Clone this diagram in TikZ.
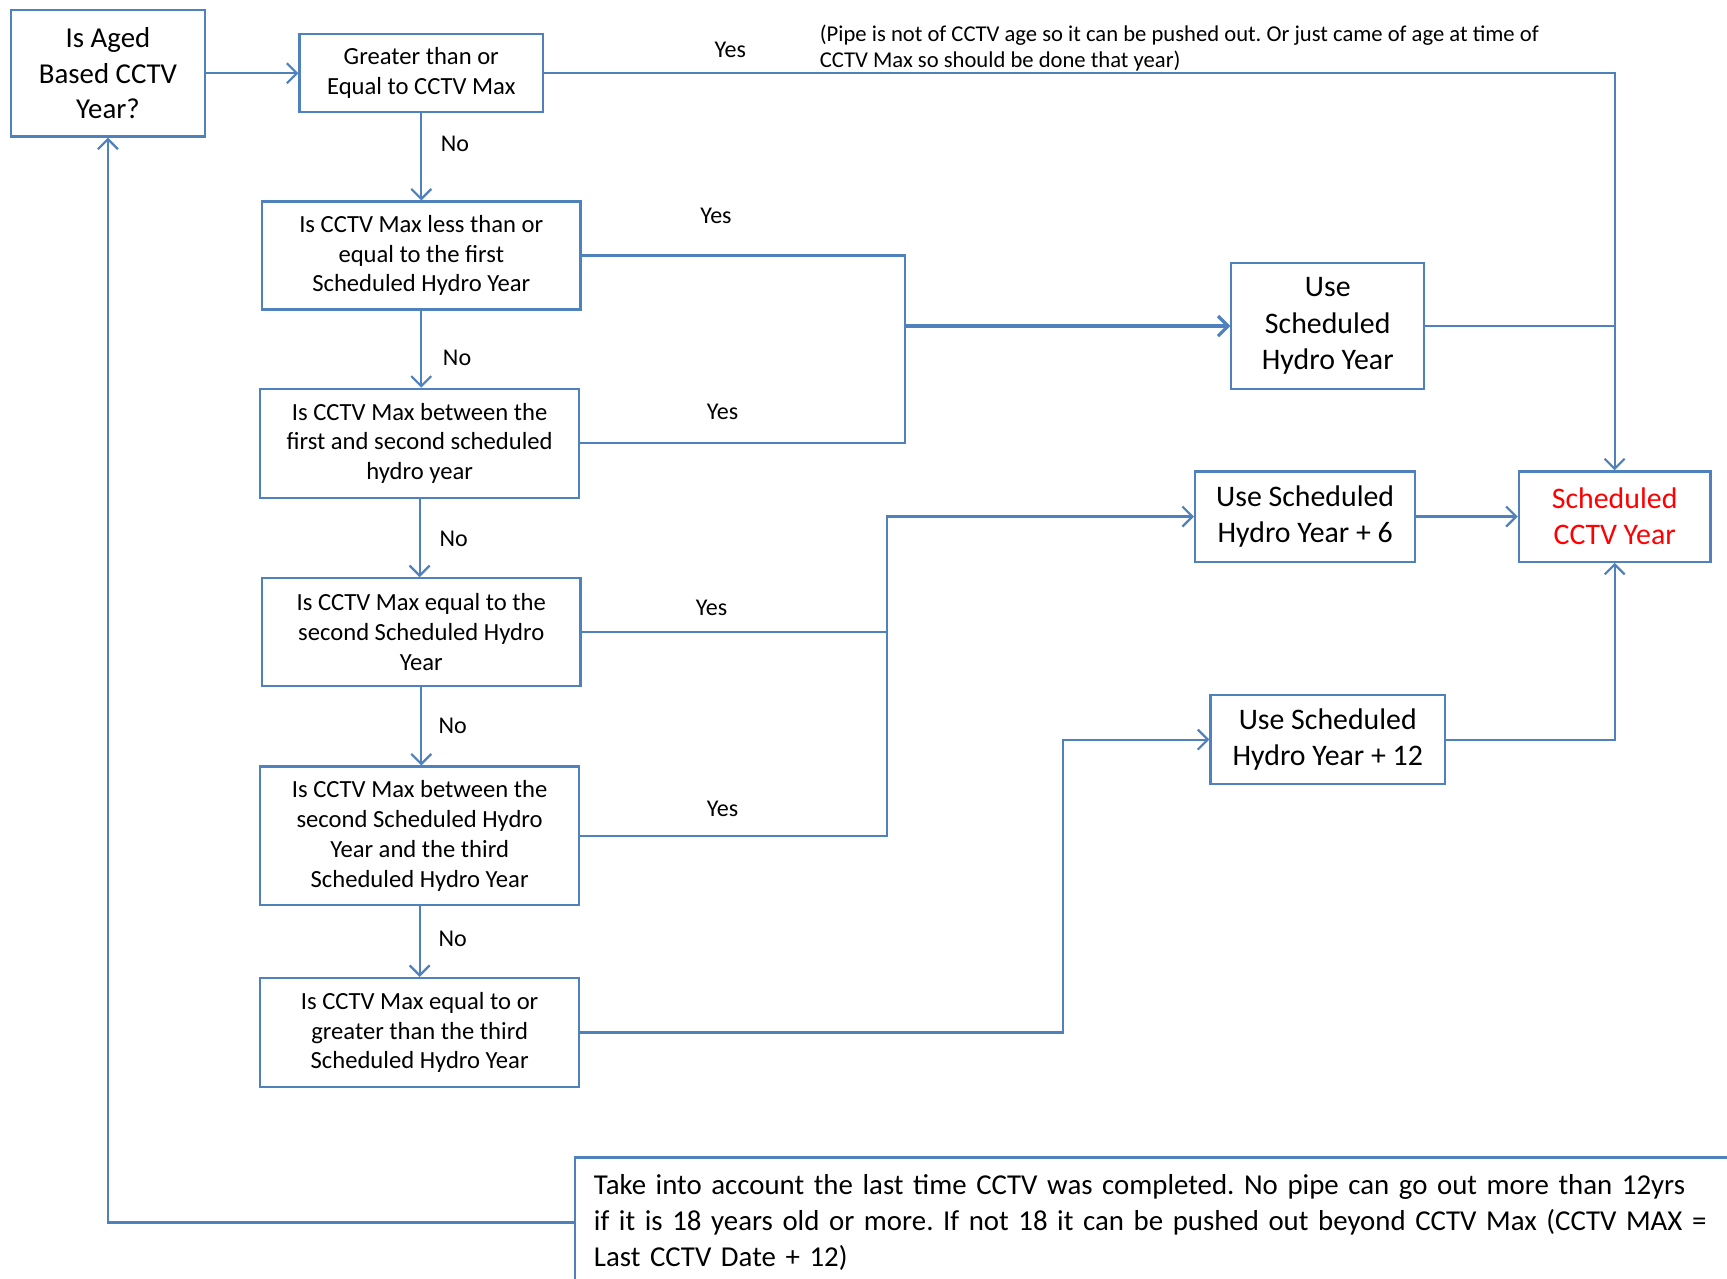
\documentclass[tikz,border=0pt]{standalone}
\usepackage{fontspec}
\setmainfont{Carlito}
\usepackage{xcolor}
\usetikzlibrary{positioning,calc,arrows.meta}
\definecolor{flowblue}{RGB}{79,129,189}
\definecolor{flowred}{RGB}{255,0,0}
\frenchspacing

\tikzset{
  qbox/.style={draw=flowblue, line width=1.1pt, align=center, inner sep=1pt},
  sz/.style 2 args={minimum width=#1*0.55pt, minimum height=#2*0.55pt},
  link/.style={draw=flowblue, line width=1.1pt},
  flow/.style={link, -{Straight Barb[length=5pt,width=10pt]}},
  lbl/.style={font=\fontsize{12}{14}\selectfont, inner sep=0pt},
  small/.style={font=\fontsize{12.3}{14.85}\selectfont},
  big/.style={font=\fontsize{14.9}{18.15}\selectfont},
}

\begin{document}
\begin{tikzpicture}[x=0.55pt, y=-0.55pt]
\path[use as bounding box, fill=white] (0,0) rectangle (1568,1161);
\clip (0,0) rectangle (1568,1161);

% questions down the left
\node[qbox, sz={176}{115}, font=\fontsize{14.4}{17.6}\selectfont] (aged) at (98,66.5) {Is Aged\\Based CCTV\\Year?};
\node[qbox, sz={221}{71}, small] (gemax) at (382.5,66.5) {Greater than or\\Equal to CCTV Max};
\node[qbox, sz={289}{98}, small] (first) at (382.5,232) {Is CCTV Max less than or\\equal to the first\\Scheduled Hydro Year};
\node[qbox, sz={290}{99}, small] (firstsec) at (381,402.5) {Is CCTV Max between the\\first and second scheduled\\hydro year};
\node[qbox, sz={289}{98}, small] (second) at (382.5,574) {Is CCTV Max equal to the\\second Scheduled Hydro\\Year};
\node[qbox, sz={290}{126}, small] (secthird) at (381,759) {Is CCTV Max between the\\second Scheduled Hydro\\Year and the third\\Scheduled Hydro Year};
\node[qbox, sz={290}{99}, small] (third) at (381,937.5) {Is CCTV Max equal to or\\greater than the third\\Scheduled Hydro Year};

% results on the right
\node[qbox, sz={175}{114}, big] (hydro) at (1205.5,296) {Use\\Scheduled\\Hydro Year};
\node[qbox, sz={200}{82}, big] (hydrosix) at (1185,469) {Use Scheduled\\Hydro Year + 6};
\node[qbox, sz={174}{82}, big, text=flowred] (cctv) at (1466,469) {Scheduled\\CCTV Year};
\node[qbox, sz={213}{81}, big] (hydrotwelve) at (1205.5,671.5) {Use Scheduled\\Hydro Year + 12};

% note box at the bottom
\node[qbox, anchor=north west, sz={1100}{118}, text width=586pt, align=left, inner xsep=9.35pt,
  font=\fontsize{14.4}{18.15}\selectfont] (lastcctv) at (521,1050)
  {Take into account the last time CCTV was completed. No pipe can go out more than 12yrs\\
   if it is 18 years old or more. If not 18 it can be pushed out beyond CCTV Max (CCTV MAX =\\
   Last CCTV Date + 12)};

\node[align=left, anchor=west, inner sep=0pt, font=\fontsize{11.3}{12.65}\selectfont] (pipenote) at (744,43.5)
  {(Pipe is not of CCTV age so it can be pushed out. Or just came of age at time of\\
   CCTV Max so should be done that year)};

\coordinate (splitone) at (822,0);
\coordinate (splittwo) at (805,0);
\coordinate (splitthree) at (965,0);

% No branches
\draw[flow] (aged) -- (gemax);
\draw[flow] (gemax) -- (first);
\draw[flow] (first.south) -- (first.south |- firstsec.north);
\draw[flow] (firstsec.south) -- (firstsec.south |- second.north);
\draw[flow] (second.south) -- (second.south |- secthird.north);
\draw[flow] (secthird.south) -- (secthird.south |- third.north);

% Yes branches
\draw[flow] (gemax.east) -| (cctv.north);
\draw[link] (first.east) -| (splitone |- firstsec.east) -- (firstsec.east);
\draw[flow, line width=1.6pt] (splitone |- hydro.west) -- (hydro.west);
\draw[link] (hydro.east) -- (hydro.east -| cctv.north);
\draw[link] (second.east) -- (second.east -| splittwo);
\draw[flow] (secthird.east) -| (splittwo |- hydrosix.west) -- (hydrosix.west);
\draw[flow] (third.east) -| (splitthree |- hydrotwelve.west) -- (hydrotwelve.west);
\draw[flow] (hydrosix) -- (cctv);
\draw[flow] (hydrotwelve.east) -| (cctv.south);
\draw[flow] (lastcctv.west) -| (aged.south);

% labels
\node[lbl] (yesa) at (663,45) {Yes};
\node[lbl] (yesb) at (650,196) {Yes};
\node[lbl] (yesc) at (656,374) {Yes};
\node[lbl] (yesd) at (646,552) {Yes};
\node[lbl] (yese) at (656,734) {Yes};
\node[lbl] (noa) at (413,131) {No};
\node[lbl] (nob) at (415,325) {No};
\node[lbl] (noc) at (412,489) {No};
\node[lbl] (nod) at (411,659) {No};
\node[lbl] (noe) at (411,852) {No};
\end{tikzpicture}
\end{document}
